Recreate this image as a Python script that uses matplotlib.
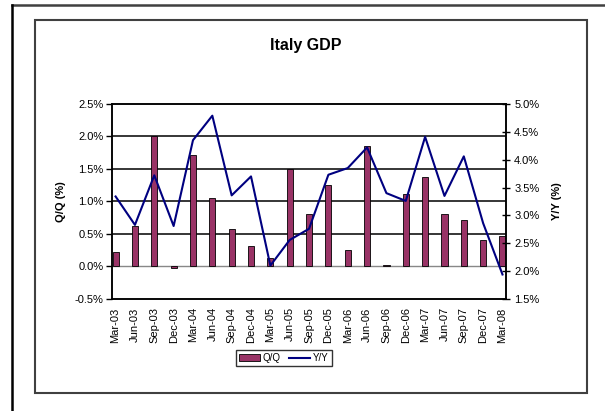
import matplotlib
matplotlib.use("Agg")
import matplotlib.pyplot as plt
from matplotlib.lines import Line2D
from matplotlib.patches import Rectangle
from matplotlib.ticker import FuncFormatter
import numpy as np

quarters = ["Mar-03", "Jun-03", "Sep-03", "Dec-03", "Mar-04", "Jun-04", "Sep-04",
            "Dec-04", "Mar-05", "Jun-05", "Sep-05", "Dec-05", "Mar-06", "Jun-06",
            "Sep-06", "Dec-06", "Mar-07", "Jun-07", "Sep-07", "Dec-07", "Mar-08"]

# quarter-on-quarter growth, %
qq = [0.23, 0.63, 2.00, -0.03, 1.72, 1.05, 0.58, 0.32, 0.13, 1.50, 0.81,
      1.26, 0.26, 1.85, 0.02, 1.11, 1.38, 0.81, 0.72, 0.41, 0.47]

# year-on-year growth, %
yy = [3.34, 2.83, 3.72, 2.81, 4.35, 4.79, 3.36, 3.70, 2.10, 2.56, 2.76,
      3.73, 3.85, 4.22, 3.40, 3.26, 4.41, 3.35, 4.06, 2.86, 1.94]

plt.rcParams["font.family"] = ["Liberation Sans", "DejaVu Sans"]

fig = plt.figure(figsize=(6.05, 4.11), dpi=100)
ax = fig.add_axes([0.185, 0.2725, 0.651, 0.4745])
ax2 = ax.twinx()

x = np.arange(len(quarters))

# gridlines and zero line
for v in [0.5, 1.0, 1.5, 2.0]:
    ax.axhline(v, color="black", linewidth=1.1, zorder=0)
ax.axhline(0, color="#888888", linewidth=1.0, zorder=1)

bars = ax.bar(x, qq, width=0.32, color="#993366", edgecolor="black",
              linewidth=0.6, zorder=2, label="Q/Q")
line, = ax2.plot(x, yy, color="#000080", linewidth=1.5, label="Y/Y")

ax.set_xlim(-0.19, 20.17)
ax.set_ylim(-0.5, 2.5)
ax.set_yticks([-0.5, 0.0, 0.5, 1.0, 1.5, 2.0, 2.5])
ax2.set_ylim(1.5, 5.0)
ax2.set_yticks([1.5, 2.0, 2.5, 3.0, 3.5, 4.0, 4.5, 5.0])

pct = FuncFormatter(lambda v, p: f"{v:.1f}%")
ax.yaxis.set_major_formatter(pct)
ax2.yaxis.set_major_formatter(pct)

ax.set_xticks(x)
ax.set_xticklabels(quarters, rotation=90, fontsize=8)
ax.tick_params(axis="x", length=0, pad=6)
ax.tick_params(axis="y", labelsize=8, length=4, width=1, direction="out", pad=2)
ax2.tick_params(axis="y", labelsize=8, length=6, width=1, direction="inout", pad=3)

for a in (ax, ax2):
    for s in a.spines.values():
        s.set_color("black")
        s.set_linewidth(1.1)

ax.set_ylabel("Q/Q (%)", fontsize=8, fontweight="bold", labelpad=6)
ax2.set_ylabel("Y/Y (%)", fontsize=8, fontweight="bold", labelpad=9)

fig.text(0.506, 0.89, "Italy GDP", ha="center", va="center",
         fontsize=11.5, fontweight="bold")

leg = fig.legend([bars, line], ["Q/Q", "Y/Y"], loc="center",
                 bbox_to_anchor=(0.469, 0.129), ncol=2, fontsize=7,
                 frameon=True, fancybox=False, handlelength=2.2,
                 handletextpad=0.3, columnspacing=0.8, borderpad=0.3)
leg.get_frame().set_edgecolor("black")
leg.get_frame().set_linewidth(1.0)

# chart area border and outer sheet edges
fig.patches.append(Rectangle((0.058, 0.044), 0.912, 0.907, transform=fig.transFigure,
                             fill=False, edgecolor="#404040", linewidth=1.5))
fig.lines.append(Line2D([0.0198, 1.0], [0.988, 0.988], transform=fig.transFigure,
                        color="#404040", linewidth=1.8))
fig.lines.append(Line2D([0.0198, 0.0198], [0.0, 0.988], transform=fig.transFigure,
                        color="black", linewidth=1.8))

plt.savefig("out.png", dpi=100)
